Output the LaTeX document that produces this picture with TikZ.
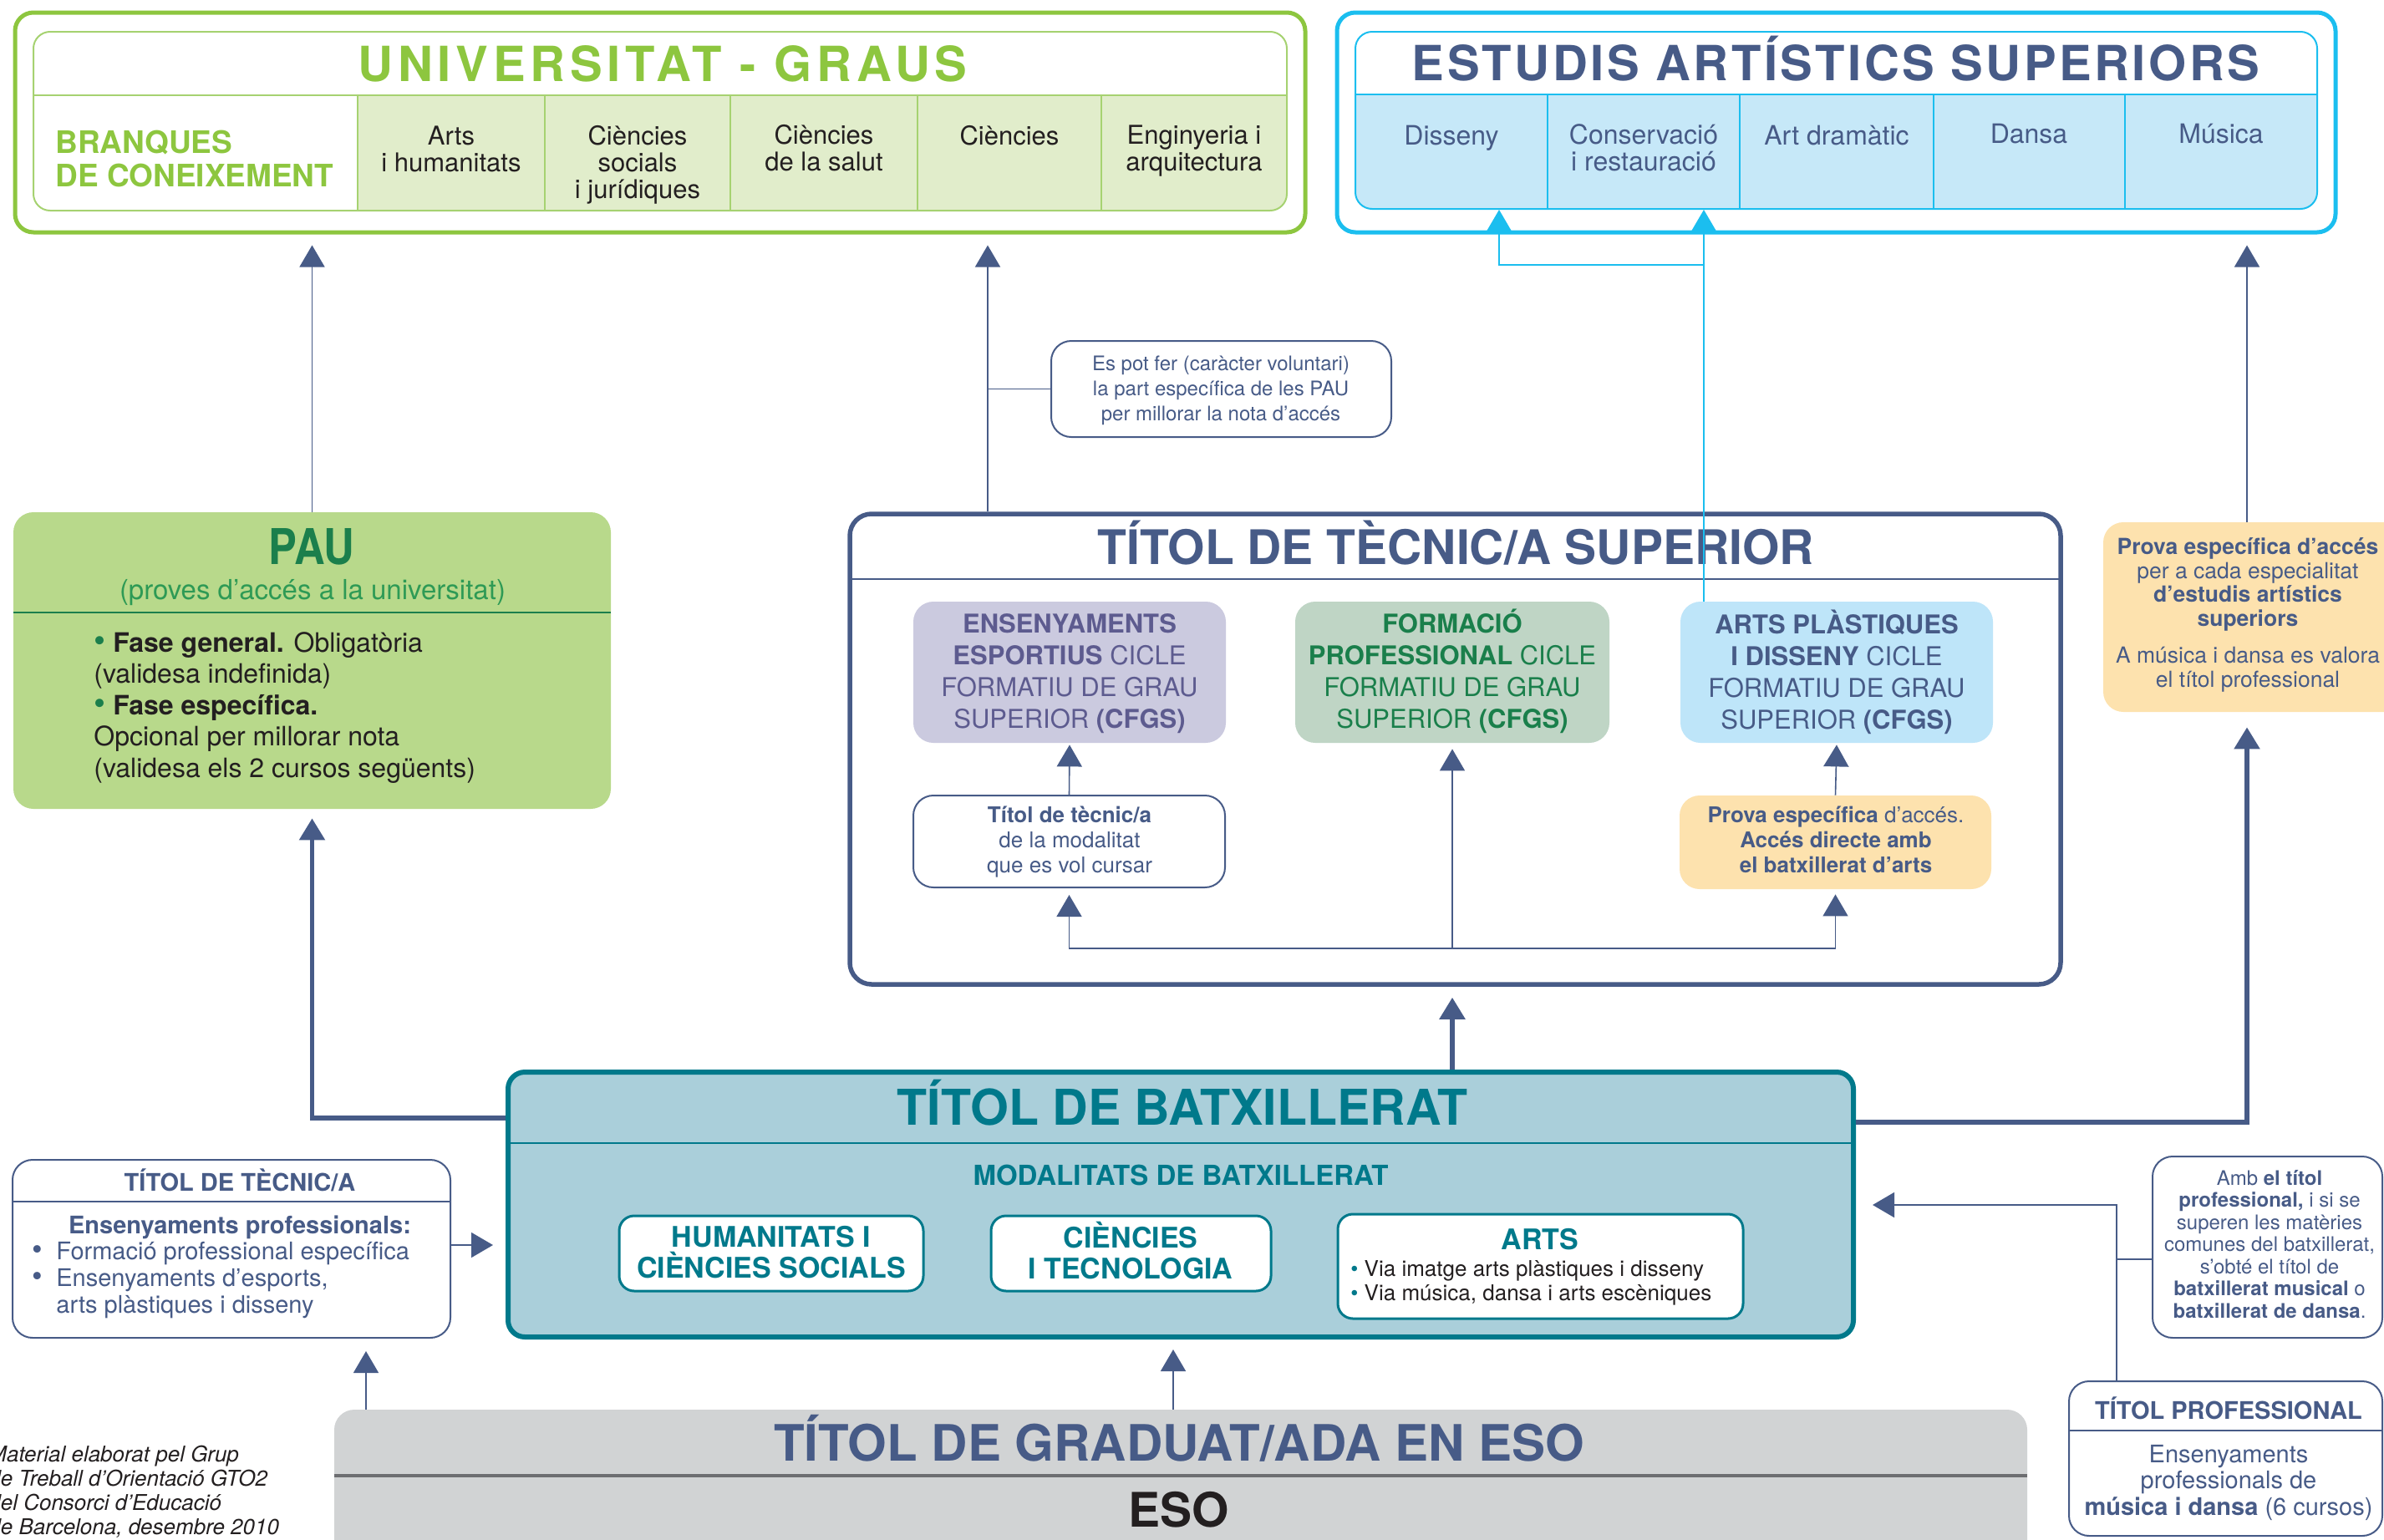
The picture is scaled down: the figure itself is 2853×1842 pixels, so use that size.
\documentclass[tikz,border=0pt]{standalone}
\usepackage{fontspec}
\setmainfont{TeX Gyre Heros}
\newfontfamily\condf[FakeStretch=0.86]{TeX Gyre Heros}
\usetikzlibrary{arrows.meta,fit}
\definecolor{green1}{HTML}{8DC63F}
\definecolor{glight}{HTML}{E1EDCB}
\definecolor{gline}{HTML}{A6D271}
\definecolor{cyan1}{HTML}{1BBEEF}
\definecolor{clight}{HTML}{C6E8F8}
\definecolor{dblue}{HTML}{475B87}
\definecolor{paug}{HTML}{B8D98B}
\definecolor{pdark}{HTML}{1B7F4C}
\definecolor{pmid}{HTML}{2E9A55}
\definecolor{lav}{HTML}{CBCADF}
\definecolor{purp}{HTML}{5D5B8F}
\definecolor{sage}{HTML}{BFD5C5}
\definecolor{fgreen}{HTML}{1A7F4B}
\definecolor{abl}{HTML}{BEE5F9}
\definecolor{yel}{HTML}{FDE2AE}
\definecolor{bfill}{HTML}{AACFDA}
\definecolor{teal1}{HTML}{00798B}
\definecolor{esog}{HTML}{D1D3D4}
\definecolor{esol}{HTML}{6D6E71}
\definecolor{ink}{HTML}{231F20}
\newcommand\fsz[2]{\fontsize{#1}{#2}\selectfont}
\begin{document}
\begin{tikzpicture}[x=0.5pt,y=-0.5pt,
  conn/.style={draw=dblue, line width=0.8pt},
  thickconn/.style={draw=dblue, line width=2.75pt},
  cyconn/.style={draw=cyan1, line width=0.8pt},
  arr/.style={-{Triangle[width=15pt,length=13pt]}},
  boxfit/.style={inner sep=0pt},
  tx/.style={inner sep=0pt, align=center},
  ctx/.style={tx, font=\fsz{15.5}{16}, text=ink},
  etx/.style={tx, font=\fsz{16}{16}, text=dblue},
  cfgs/.style={tx, font=\fsz{15.5}{19}},
  notebox/.style={boxfit, draw=dblue, line width=1pt, fill=white, rounded corners=12pt},
  subbox/.style={boxfit, fill=white, draw=teal1, line width=1.5pt, rounded corners=9pt}
]
\useasboundingbox (0,0) rectangle (2853,1842);
\clip (0,0) rectangle (2853,1842);

% ---------- UNIVERSITAT ----------
\node[boxfit, fit={(18,15)(1562,278)}, draw=green1, line width=2.5pt, rounded corners=11pt] (uniout) {};
\begin{scope}
  \clip[rounded corners=10pt] (40,38) rectangle (1540,252);
  \fill[glight] (428,114) rectangle (1540,252);
  \draw[gline, line width=1pt] (40,114) -- (1540,114);
  \foreach \xx in {428,652,874,1098,1318} \draw[gline, line width=0.8pt] (\xx,114) -- (\xx,252);
\end{scope}
\node[boxfit, fit={(40,38)(1540,252)}, draw=gline, line width=1pt, rounded corners=10pt] (uniin) {};

% ---------- ESTUDIS ----------
\node[boxfit, fit={(1600,15)(2795,278)}, draw=cyan1, line width=2.5pt, rounded corners=11pt] (estout) {};
\begin{scope}
  \clip[rounded corners=10pt] (1622,38) rectangle (2773,250);
  \fill[clight] (1622,113) rectangle (2773,250);
  \draw[cyan1, line width=1pt] (1622,113) -- (2773,113);
  \foreach \xx in {1852,2082,2314,2543} \draw[cyan1, line width=0.8pt] (\xx,113) -- (\xx,250);
\end{scope}
\node[boxfit, fit={(1622,38)(2773,250)}, draw=cyan1, line width=1pt, rounded corners=10pt] (estin) {};

% ---------- PAU ----------
\node[boxfit, fit={(16,613)(731,968)}, fill=paug, rounded corners=12pt] (pau) {};
\draw[pdark, line width=1pt] (16,733) -- (731,733);

% ---------- TITOL TECNIC SUPERIOR ----------
\node[boxfit, fit={(1017,615)(2466,1178)}, draw=dblue, line width=2.75pt, fill=white, rounded corners=13pt] (tsup) {};
\draw[dblue, line width=1pt] (1017,693) -- (2466,693);
\node[boxfit, fit={(1093,720)(1467,889)}, fill=lav, rounded corners=12pt] (ensb) {};
\node[boxfit, fit={(1550,720)(1926,889)}, fill=sage, rounded corners=12pt] (formb) {};
\node[boxfit, fit={(2011,720)(2385,889)}, fill=abl, rounded corners=12pt] (artsb) {};
\node[notebox, fit={(1093,952)(1466,1062)}] (tecsm) {};
\node[boxfit, fit={(2010,952)(2383,1064)}, fill=yel, rounded corners=12pt] (prova1) {};

% note
\node[notebox, fit={(1258,408)(1665,523)}] (note) {};

% right yellow
\node[boxfit, fit={(2517,625)(2900,852)}, fill=yel, rounded corners=12pt] (prova2) {};

% ---------- BATXILLERAT ----------
\node[boxfit, fit={(608,1283)(2218,1600)}, fill=bfill, draw=teal1, line width=3pt, rounded corners=10pt] (batx) {};
\draw[teal1, line width=1pt] (608,1368) -- (2218,1368);
\node[subbox, fit={(741,1455)(1105,1545)}] (hum) {};
\node[subbox, fit={(1186,1455)(1521,1545)}] (cien) {};
\node[subbox, fit={(1601,1453)(2086,1578)}] (artsbx) {};

% ---------- TITOL TECNIC/A ----------
\node[notebox, fit={(15,1388)(539,1601)}] (tecn) {};
\draw[dblue, line width=1pt] (15,1438) -- (539,1438);

% ---------- ESO ----------
\node[boxfit, fit={(400,1687)(2426,1900)}, fill=esog, rounded corners=12pt] (eso) {};
\draw[esol, line width=2pt] (400,1766) -- (2426,1766);

% ---------- right notes ----------
\node[notebox, fit={(2576,1384)(2851,1601)}] (amb) {};
\node[notebox, fit={(2476,1653)(2851,1838)}] (tprof) {};
\draw[dblue, line width=1pt] (2476,1712) -- (2851,1712);

% ---------- CONNECTORS ----------
\draw[conn, arr, shorten >=6.5pt] (pau.north) -- (pau.north |- uniout.south);
\draw[conn, arr, shorten >=6.5pt] (1182,0 |- tsup.north) -- (1182,0 |- uniout.south);
\draw[conn] (1182,0 |- note.west) -- (note.west);
\draw[conn, arr, shorten >=6.5pt] (2689,0 |- prova2.north) -- (2689,0 |- estout.south);

\draw[thickconn, arr, shorten >=5.5pt] (batx.west |- 0,1338) -- (pau.south |- 0,1338) -- (pau.south);
\draw[thickconn, arr, shorten >=6.5pt] (1738,0 |- batx.north) -- (1738,0 |- tsup.south);
\draw[thickconn, arr, shorten >=9pt] (batx.east |- 0,1343) -- (2689,1343) -- (2689,0 |- prova2.south);

\draw[conn, arr, shorten >=7.5pt] (tecn.east |- 0,1490) -- (batx.west |- 0,1490);
\draw[conn, arr, shorten >=7.5pt] (438,0 |- eso.north) -- (438,0 |- tecn.south);
\draw[conn, arr, shorten >=6pt] (1404,0 |- eso.north) -- (1404,0 |- batx.south);

\coordinate (pj) at (2533,1442);
\draw[conn, arr, shorten >=10pt] (pj |- tprof.north) -- (pj) -- (batx.east |- pj);
\draw[conn] (2533,1507) -- (amb.west |- 0,1507);

\draw[conn, arr, shorten >=1pt] (tecsm.north) -- (ensb.south);
\draw[conn, arr, shorten >=1pt] (prova1.north) -- (artsb.south);
\draw[conn, arr, shorten >=3.5pt] (formb.south |- 0,1135) -- (formb.south);
\draw[conn, {Triangle[width=15pt,length=13pt]}-{Triangle[width=15pt,length=13pt]}, shorten <=4pt, shorten >=3pt]
  (tecsm.south) -- (tecsm.south |- 0,1135) -- (prova1.south |- 0,1135) -- (prova1.south);

% ---------- TEXTS ----------
\node[tx, anchor=base, text=green1, font=\fsz{29}{34}\bfseries\addfontfeature{LetterSpace=10}] (unit) at (793,97) {UNIVERSITAT - GRAUS};
\node[tx, anchor=west, align=left, text=green1, font=\fsz{18.5}{20}\bfseries] (branq) at (66,190) {BRANQUES\\DE CONEIXEMENT};
\node[ctx] (c1) at (540,178) {Arts\\i humanitats};
\node[ctx] (c2) at (763,197) {Ciències\\socials\\i jurídiques};
\node[ctx] (c3) at (986,177.5) {Ciències\\de la salut};
\node[ctx, anchor=base] (c4) at (1208,173) {Ciències};
\node[ctx] (c5) at (1429,181) {Enginyeria i\\arquitectura};

\node[tx, anchor=base, text=dblue, font=\fsz{29}{34}\bfseries\addfontfeature{LetterSpace=6}] (estt) at (2197,96) {ESTUDIS ARTÍSTICS SUPERIORS};
\node[etx, anchor=base] (e1) at (1737,173) {Disseny};
\node[etx] (e2) at (1967,177) {Conservació\\i restauració};
\node[etx, anchor=base] (e3) at (2198,173) {Art dramàtic};
\node[etx, anchor=base] (e4) at (2428,171) {Dansa};
\node[etx, anchor=base] (e5) at (2658,171) {Música};

\node[tx, anchor=base, text=pdark, font=\fsz{29.5}{34}\condf\bfseries] (paut) at (373,675) {PAU};
\node[tx, anchor=base, text=pmid, font=\fsz{16.5}{20}] (paus) at (374,717) {(proves d’accés a la universitat)};
\node[tx, anchor=west, align=left, text=ink, font=\fsz{16}{18.75}] (paub) at (112,847)
  {\textcolor{pdark}{\fsz{20}{18.75}\textbullet} \textbf{Fase general.} Obligatòria\\(validesa indefinida)\\\textcolor{pdark}{\fsz{20}{18.75}\textbullet} \textbf{Fase específica.}\\Opcional per millorar nota\\(validesa els 2 cursos següents)};

\node[tx, anchor=base, text=dblue, font=\fsz{28.5}{34}\bfseries] (tsupt) at (1742,675) {TÍTOL DE TÈCNIC/A SUPERIOR};
\node[cfgs, text=purp] (ensbt) at (1280,806) {\textbf{ENSENYAMENTS}\\\textbf{ESPORTIUS} CICLE\\FORMATIU DE GRAU\\SUPERIOR \textbf{(CFGS)}};
\node[cfgs, text=fgreen] (formbt) at (1738,803) {\textbf{FORMACIÓ}\\\textbf{PROFESSIONAL} CICLE\\FORMATIU DE GRAU\\SUPERIOR \textbf{(CFGS)}};
\node[cfgs, text=dblue] (artsbt) at (2198,804) {\textbf{ARTS PLÀSTIQUES}\\\textbf{I DISSENY} CICLE\\FORMATIU DE GRAU\\SUPERIOR \textbf{(CFGS)}};
\node[tx, text=dblue, font=\fsz{13}{15}] (tecsmt) at (1280,1008) {\textbf{Títol de tècnic/a}\\de la modalitat\\que es vol cursar};
\node[tx, text=dblue, font=\fsz{13}{15}] (prova1t) at (2197,1005) {\textbf{Prova específica} d’accés.\\\textbf{Accés directe amb}\\\textbf{el batxillerat d’arts}};
\node[tx, text=dblue, font=\fsz{12}{15}] (notet) at (1461,467) {Es pot fer (caràcter voluntari)\\la part específica de les PAU\\per millorar la nota d’accés};
\node[tx, text=dblue, font=\fsz{13.25}{14.25}] (prova2t) at (2690,736) {\textbf{Prova específica d’accés}\\per a cada especialitat\\\textbf{d’estudis artístics}\\\textbf{superiors}\\[8pt]A música i dansa es valora\\el títol professional};

\node[tx, anchor=base, text=teal1, font=\fsz{29.5}{34}\bfseries] (batxt) at (1415,1346) {TÍTOL DE BATXILLERAT};
\node[tx, anchor=base, text=teal1, font=\fsz{16.5}{20}\bfseries] (modt) at (1413,1418) {MODALITATS DE BATXILLERAT};
\node[tx, text=teal1, font=\fsz{17}{18.5}\bfseries] (humt) at (923,1499) {HUMANITATS I\\CIÈNCIES SOCIALS};
\node[tx, text=teal1, font=\fsz{17}{18.5}\bfseries] (cient) at (1353,1497) {CIÈNCIES\\I TECNOLOGIA};
\node[tx, anchor=base, text=teal1, font=\fsz{17}{18.5}\bfseries] (artst) at (1843,1495) {ARTS};
\node[tx, anchor=west, align=left, text=ink, font=\fsz{13}{14.5}] (artsl) at (1616,1535)
  {\textcolor{teal1}{\textbullet} Via imatge arts plàstiques i disseny\\\textcolor{teal1}{\textbullet} Via música, dansa i arts escèniques};

\node[tx, anchor=base, text=dblue, font=\fsz{14.5}{16}\bfseries] (tecnt) at (287,1425) {TÍTOL DE TÈCNIC/A};
\node[tx, anchor=base, text=dblue, font=\fsz{14.5}{16}\bfseries] (tecns) at (287,1476) {Ensenyaments professionals:};
\node[tx, anchor=west, align=left, text=dblue, font=\fsz{14.5}{16}] (tecnl) at (38,1532)
  {\makebox[14.5pt][l]{\fsz{18}{16}\textbullet}Formació professional específica\\\makebox[14.5pt][l]{\fsz{18}{16}\textbullet}Ensenyaments d’esports,\\\hspace*{14.5pt}arts plàstiques i disseny};

\node[tx, anchor=west, align=left, text=ink, font=\fsz{13}{14.5}\itshape] (foot) at (-14,1785)
  {Material elaborat pel Grup\\de Treball d’Orientació GTO2\\del Consorci d’Educació\\de Barcelona, desembre 2010};

\node[tx, anchor=base, text=dblue, font=\fsz{30}{34}\bfseries] (esot) at (1411,1748) {TÍTOL DE GRADUAT/ADA EN ESO};
\node[tx, anchor=base, text=ink, font=\fsz{28.5}{34}\bfseries] (esob) at (1411,1827) {ESO};

\node[tx, text=dblue, font=\fsz{12}{13.25}] (ambt) at (2716,1489) {Amb \textbf{el títol}\\\textbf{professional,} i si se\\superen les matèries\\comunes del batxillerat,\\s’obté el títol de\\\textbf{batxillerat musical} o\\\textbf{batxillerat de dansa}.};
\node[tx, anchor=base, text=dblue, font=\fsz{14.5}{16}\bfseries] (tproft) at (2667,1698) {TÍTOL PROFESSIONAL};
\node[tx, text=dblue, font=\fsz{14.5}{15.75}] (tprofb) at (2667,1774) {Ensenyaments\\professionals de\\\textbf{música i dansa} (6 cursos)};

% ---------- cyan connectors (on top) ----------
\coordinate (cj) at (2039,317);
\draw[cyconn, -{Triangle[width=15pt,length=13pt]}] (cj |- artsb.north) -- (cj |- estin.south);
\draw[cyconn, -{Triangle[width=15pt,length=13pt]}] (cj) -- (1794,317) -- (1794,0 |- estin.south);
\end{tikzpicture}
\end{document}
